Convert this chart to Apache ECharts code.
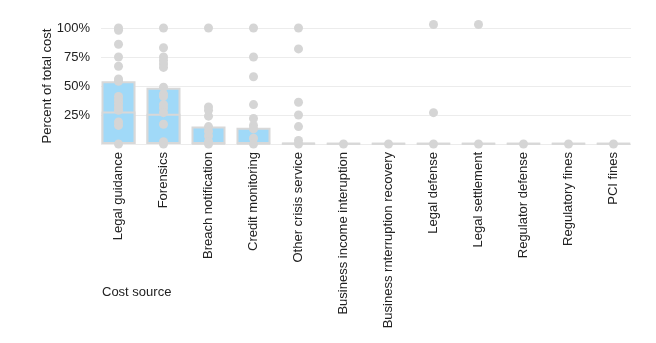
<!DOCTYPE html>
<html>
<head>
<meta charset="utf-8">
<script src="https://cdn.jsdelivr.net/npm/echarts@6/dist/echarts.min.js"></script>
<style>html,body{margin:0;padding:0;background:#fff}#c{width:656px;height:343px}</style>
</head>
<body>
<div id="c"></div>
<script>
const categories = ["Legal guidance","Forensics","Breach notification","Credit monitoring","Other crisis service","Business income interuption","Business rnterruption recovery","Legal defense","Legal settlement","Regulator defense","Regulatory fines","PCI fines"];
const barTop = [54, 48.5, 15, 14, 1, 0.5, 0.5, 0.5, 0.5, 0.5, 0.5, 0.5];
const barInner = [28, 26, 0.5, 0.5, 0.5, 0.5, 0.5, 0.5, 0.5, 0.5, 0.5, 0.5];
const pointsLegalGuidance = [100, 98, 86, 75, 67, 56, 54, 41, 38, 35, 32, 29, 19, 16, 0];
const pointsForensics = [100, 83, 75, 72, 69, 66, 49, 43, 41, 34, 31, 27, 17, 2, 0];
const pointsBreach = [100, 32, 29, 24, 15, 11, 7, 2, 0];
const pointsCredit = [100, 75, 58, 34, 22, 16, 13, 5, 0];
const pointsOther = [100, 82, 36, 25, 15, 3, 0];
const pointsBusinessIncome = [0];
const pointsBusinessRecovery = [0];
const pointsLegalDefense = [103, 27, 0];
const pointsLegalSettlement = [103, 0];
const pointsRegulatorDefense = [0];
const pointsRegulatoryFines = [0];
const pointsPCI = [0];
const yTicks = [0, 25, 50, 75, 100];

const allPoints = [pointsLegalGuidance, pointsForensics, pointsBreach, pointsCredit, pointsOther, pointsBusinessIncome, pointsBusinessRecovery, pointsLegalDefense, pointsLegalSettlement, pointsRegulatorDefense, pointsRegulatoryFines, pointsPCI];
const scatterData = [];
allPoints.forEach((arr, i) => arr.forEach(v => scatterData.push([i, v])));
const idx = categories.map((_, i) => i);

const font = "'Liberation Sans', Arial, sans-serif";
const chart = echarts.init(document.getElementById('c'), null, {renderer: 'canvas'});
const barStyle = {color: '#a0d9f8', borderColor: '#d8d8d8', borderWidth: 2};
chart.setOption({
  animation: false,
  textStyle: {fontFamily: font, color: '#222'},
  title: {text: 'Cost source', left: 102, top: 286, padding: 0, textStyle: {fontFamily: font, fontSize: 13, fontWeight: 'normal', color: '#222'}},
  grid: {left: 101, right: 25, top: 28, bottom: 199},
  xAxis: {
    type: 'value', min: -0.389, max: 11.389,
    axisLine: {show: false}, axisTick: {show: false}, splitLine: {show: false},
    axisLabel: {customValues: idx, rotate: 90, margin: 8, fontSize: 13, color: '#222', fontFamily: font,
      formatter: v => categories[Math.round(v)] || ''}
  },
  yAxis: {
    type: 'value', min: 0, max: 100, interval: 25,
    name: 'Percent of total cost', nameLocation: 'middle', nameGap: 47, nameMoveOverlap: false,
    nameTextStyle: {fontSize: 13, color: '#222', fontFamily: font},
    axisLine: {show: false}, axisTick: {show: false},
    splitLine: {lineStyle: {color: '#ececec', width: 1}},
    axisLabel: {fontSize: 13, color: '#222', margin: 11, fontFamily: font, showMinLabel: false,
      customValues: yTicks, formatter: v => v === 0 ? '' : v + '%'}
  },
  series: [
    {type: 'bar', data: barTop.map((v, i) => [i, v]), barWidth: 34, barGap: '-100%', itemStyle: barStyle, z: 2},
    {type: 'bar', data: barInner.map((v, i) => [i, v]), barWidth: 34, barGap: '-100%', itemStyle: barStyle, z: 2},
    {type: 'scatter', data: scatterData, symbolSize: 9, clip: false, itemStyle: {color: '#d5d5d5', opacity: 1}, z: 3}
  ]
});
</script>
</body>
</html>
